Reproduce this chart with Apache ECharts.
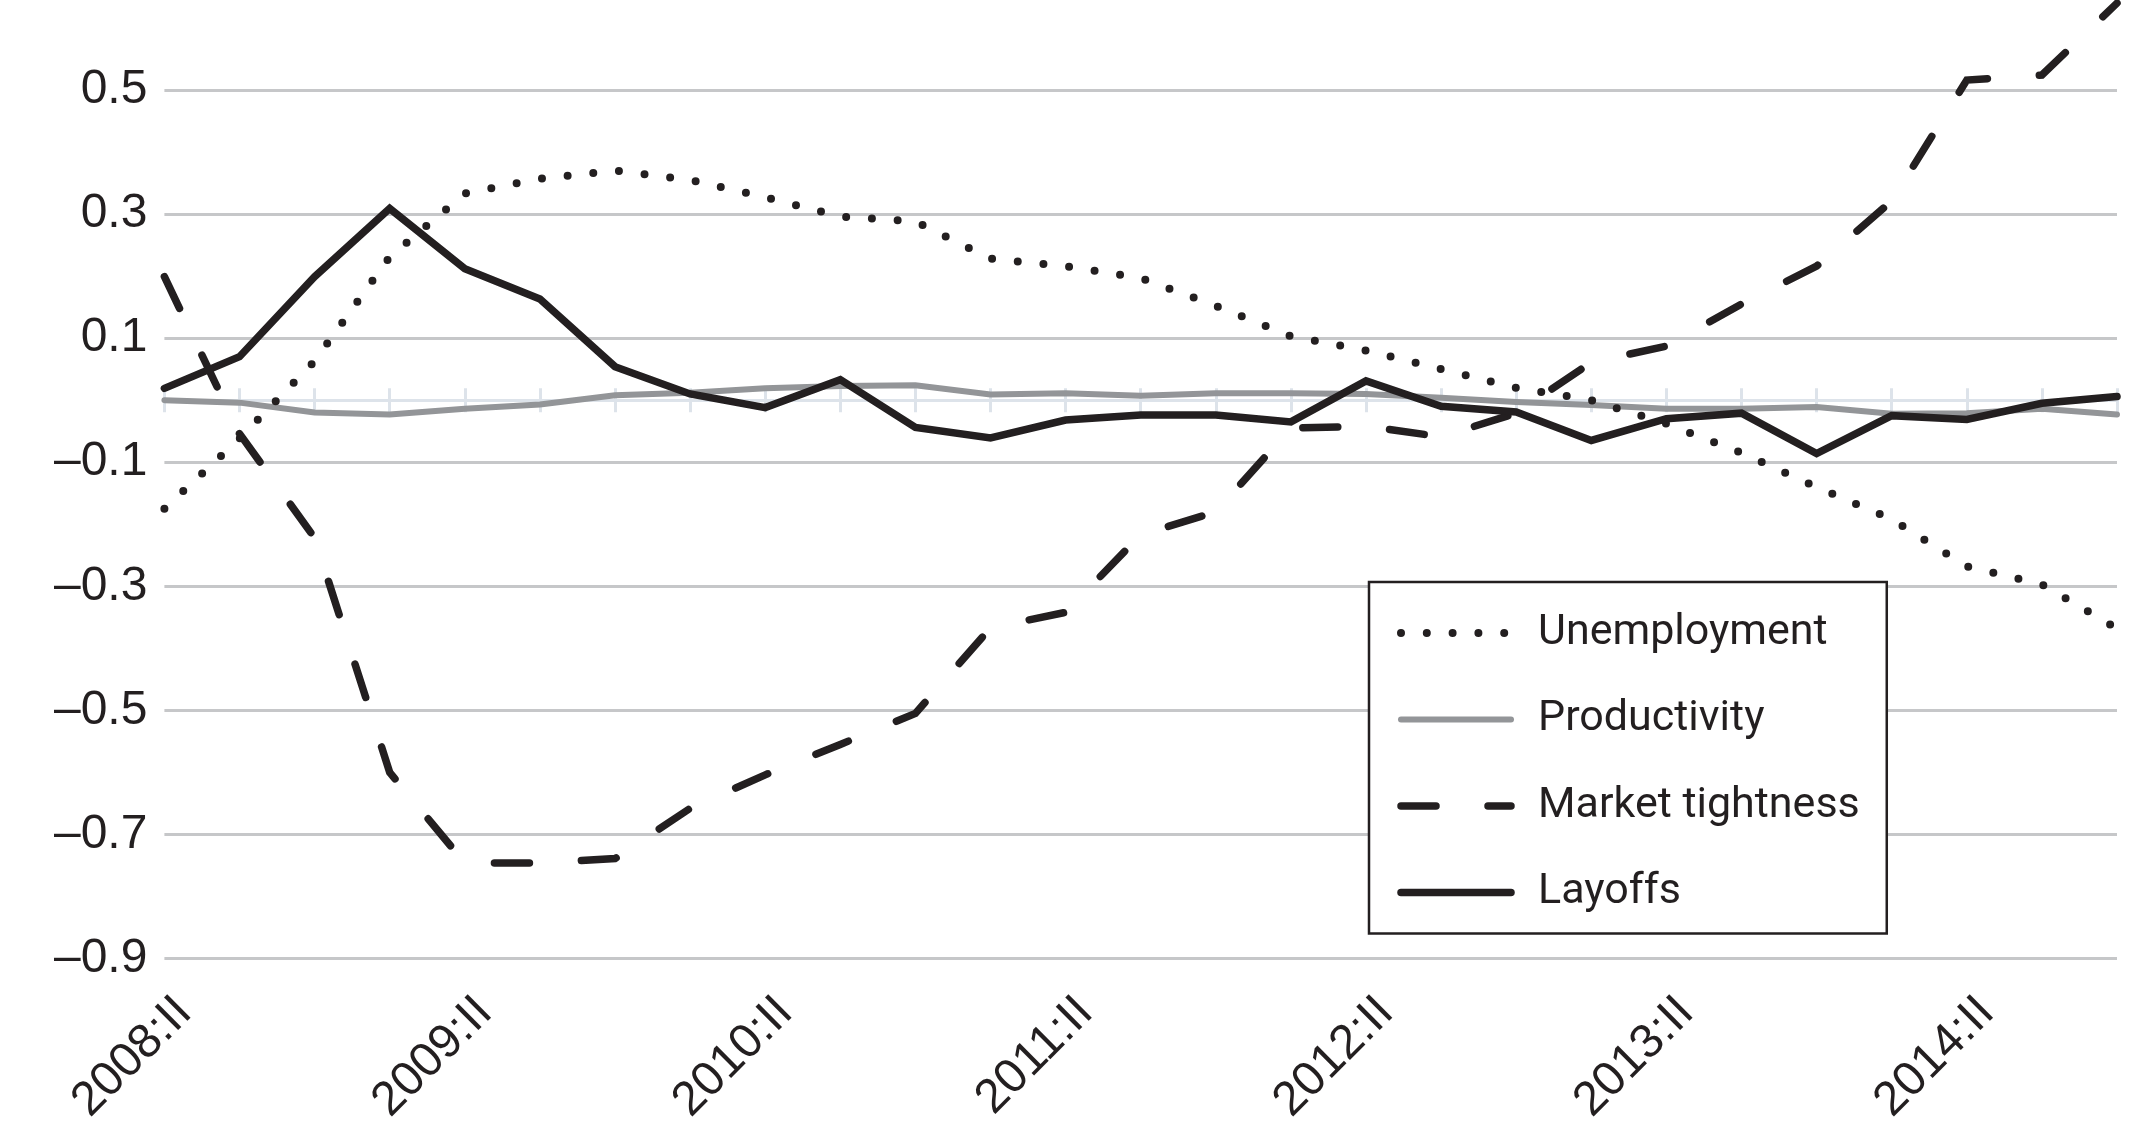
<!DOCTYPE html>
<html>
<head>
<meta charset="utf-8">
<script src="https://cdn.jsdelivr.net/npm/echarts@6/dist/echarts.min.js"></script>
<style>
html,body{margin:0;padding:0;background:#fff;}
#chart{width:2141px;height:1128px;}
</style>
</head>
<body>
<div id="chart"></div>
<script>
// Quarters 2008:II .. 2014:IV
const quarters = ['2008:II','2008:III','2008:IV',
  '2009:I','2009:II','2009:III','2009:IV',
  '2010:I','2010:II','2010:III','2010:IV',
  '2011:I','2011:II','2011:III','2011:IV',
  '2012:I','2012:II','2012:III','2012:IV',
  '2013:I','2013:II','2013:III','2013:IV',
  '2014:I','2014:II','2014:III','2014:IV'];

const unemployment = [-0.175,-0.062,0.063,0.231,0.333,0.357,0.370,0.355,0.327,0.296,0.288,0.228,0.216,0.197,0.152,0.103,0.080,0.050,0.020,0.000,-0.038,-0.085,-0.140,-0.192,-0.268,-0.297,-0.368];
const productivity = [0.000,-0.004,-0.020,-0.023,-0.014,-0.007,0.008,0.012,0.019,0.023,0.024,0.009,0.011,0.007,0.011,0.011,0.010,0.004,-0.003,-0.008,-0.014,-0.014,-0.011,-0.022,-0.021,-0.014,-0.023];
const marketTightness = [0.199,-0.054,-0.222,-0.600,-0.746,-0.746,-0.739,-0.658,-0.604,-0.555,-0.505,-0.367,-0.342,-0.217,-0.180,-0.045,-0.042,-0.059,-0.021,0.061,0.087,0.155,0.216,0.321,0.516,0.524,0.640];
const layoffs = [0.019,0.070,0.199,0.309,0.212,0.163,0.054,0.010,-0.012,0.033,-0.044,-0.061,-0.032,-0.024,-0.024,-0.035,0.031,-0.010,-0.019,-0.065,-0.030,-0.021,-0.086,-0.025,-0.031,-0.005,0.006];

const seriesNames = ['Unemployment','Productivity','Market tightness','Layoffs'];
const yTicks = [-0.9,-0.7,-0.5,-0.3,-0.1,0.1,0.3,0.5];

const INK = '#231f20';
const GRAY = '#939598';
const GRID = '#c6c7c9';
const ZERO = '#dde3ea';

const dotted = {color: INK, width: 8, type: [0, 25.8], cap: 'round'};
const solidGray = {color: GRAY, width: 6, type: 'solid', cap: 'round'};
const dashed = {color: INK, width: 7.5, type: [35, 52], cap: 'round'};
const solidBlack = {color: INK, width: 7.5, type: 'solid', cap: 'round'};
const styles = [dotted, solidGray, dashed, solidBlack];
const values = [unemployment, productivity, marketTightness, layoffs];

const chart = echarts.init(document.getElementById('chart'), null, {renderer: 'canvas'});

const yMin = -0.9, yMax = 0.645;

function fmtY(v) {
  const ok = yTicks.some(t => Math.abs(t - v) < 1e-6);
  if (!ok) return '';
  const s = Math.abs(v).toFixed(1);
  return v < 0 ? '\u2013' + s : s;
}

const tickAxis = (pos, inside) => ({
  type: 'category', gridIndex: 0, data: quarters, boundaryGap: false, position: pos,
  axisLine: {show: true, onZero: true, onZeroAxisIndex: 0, lineStyle: {color: ZERO, width: 3}},
  axisTick: {show: true, interval: 0, inside: inside, length: 12, lineStyle: {color: ZERO, width: 3}},
  axisLabel: {show: false}, splitLine: {show: false}
});

const option = {
  animation: false,
  backgroundColor: '#ffffff',
  grid: [
    {left: 164.4, right: 24, top: 0, bottom: 169.5, containLabel: false},
    {left: 184.4, right: 4, top: 0, bottom: 169.5, containLabel: false}
  ],
  xAxis: [
    tickAxis('bottom', false),
    tickAxis('bottom', true),
    {
      type: 'category', gridIndex: 1, data: quarters, boundaryGap: false, position: 'bottom',
      axisLine: {show: false, onZero: false}, axisTick: {show: false}, splitLine: {show: false},
      axisLabel: {show: true, interval: 3, rotate: 45, margin: 48, color: INK,
        fontFamily: 'Liberation Sans', fontSize: 48}
    }
  ],
  yAxis: [
    {
      type: 'value', gridIndex: 0, min: yMin, max: yMax, interval: 0.2,
      axisLine: {show: false}, axisTick: {show: false},
      axisLabel: {show: true, margin: 17, color: INK, fontFamily: 'Liberation Sans', fontSize: 48,
        showMaxLabel: false, formatter: fmtY},
      splitLine: {show: true, showMaxLine: false, lineStyle: {color: GRID, width: 3}}
    },
    {
      type: 'value', gridIndex: 1, min: yMin, max: yMax, show: false,
      splitLine: {show: false}
    }
  ],
  legend: {
    orient: 'vertical', left: 1369, top: 582,
    itemWidth: 110, itemHeight: 20, itemGap: 36.5,
    padding: [26, 27, 16, 28],
    borderColor: INK, borderWidth: 2.5, backgroundColor: '#ffffff',
    selectedMode: false,
    textStyle: {fontFamily: 'Roboto', fontSize: 43, color: INK, lineHeight: 50, padding: [0, 0, 0, 22]},
    data: seriesNames.map((n, i) => ({
      name: n,
      itemStyle: {opacity: 0, color: 'rgba(0,0,0,0)', borderWidth: 0},
      lineStyle: Object.assign({opacity: 1}, styles[i])
    }))
  },
  series: seriesNames.map((n, i) => ({
    name: n, type: 'line', xAxisIndex: 0, yAxisIndex: 0,
    data: values[i], symbol: 'none', showSymbol: false, smooth: false,
    z: i === 1 ? 2 : 3,
    color: styles[i].color,
    lineStyle: Object.assign({join: 'miter'}, styles[i]),
    emphasis: {disabled: true}
  }))
};
chart.setOption(option);
</script>
</body>
</html>
